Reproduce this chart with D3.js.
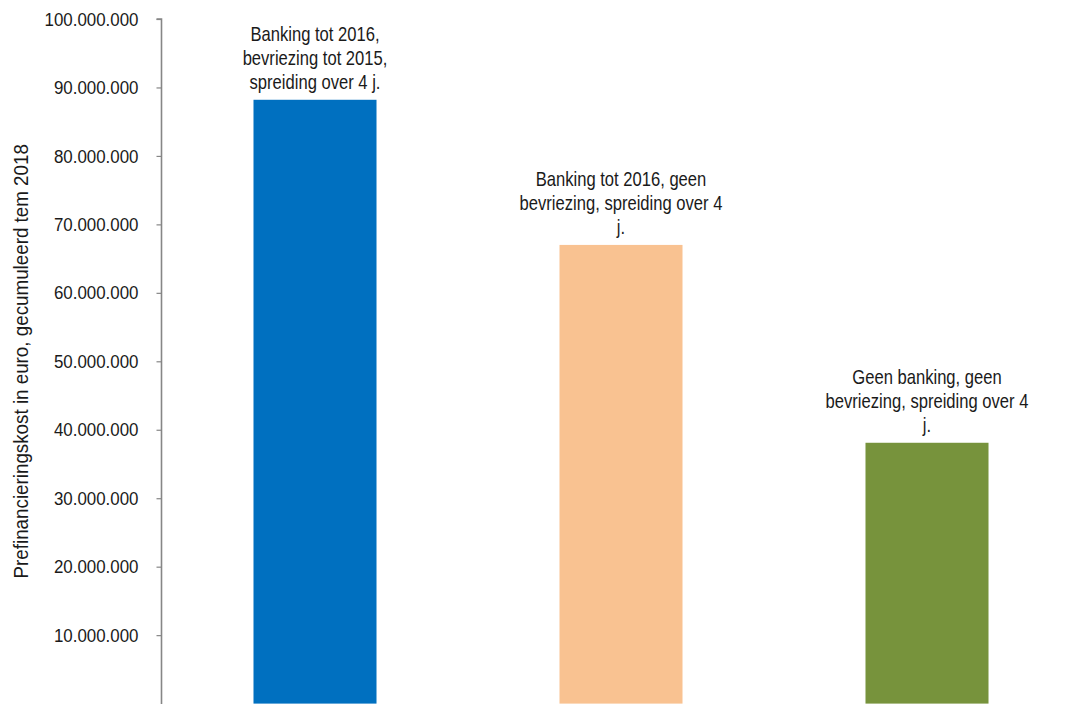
<!DOCTYPE html>
<html>
<head>
<meta charset="utf-8">
<script src="https://cdn.jsdelivr.net/npm/d3@7"></script>
<style>
  html, body { margin: 0; padding: 0; background: #fff; }
  svg { display: block; }
  text { font-family: "Liberation Sans Narrow", "Arial Narrow", "Liberation Sans", Arial, sans-serif; fill: #1a1a1a; }
</style>
</head>
<body>
<svg id="chart" width="1071" height="704"></svg>
<script>
// Scenarios and cumulative prefinancing cost (euro) up to 2018
const scenarios = ["s1", "s2", "s3"];
const costs = [88200000, 67000000, 38100000];
const barLabels = [
  ["Banking tot 2016,", "bevriezing tot 2015,", "spreiding over 4 j."],
  ["Banking tot 2016, geen", "bevriezing, spreiding over 4", "j."],
  ["Geen banking, geen", "bevriezing, spreiding over 4", "j."]
];
const barColors = ["#0070C0", "#F9C291", "#77933C"];
const yTicks = [10000000, 20000000, 30000000, 40000000, 50000000, 60000000, 70000000, 80000000, 90000000, 100000000];
const yTitle = "Prefinancieringskost in euro, gecumuleerd tem 2018";

const svg = d3.select("#chart");
const margin = { left: 162, right: -9, top: 19, bottom: 0.4 };
const W = 1071, H = 704;

// condensed look: regular sans squeezed horizontally
const squeezeTick = 0.89, squeezeLabel = 0.83, squeezeTitle = 0.94;

const x = d3.scaleBand()
  .domain(scenarios)
  .range([margin.left, W - margin.right])
  .paddingInner(0.598)
  .paddingOuter(0.299);

const y = d3.scaleLinear()
  .domain([0, 100000000])
  .range([H - margin.bottom, margin.top]);

const fmt = v => d3.format(",")(v).replace(/,/g, ".");

// bars
svg.append("g").selectAll("rect")
  .data(costs)
  .join("rect")
  .attr("x", (d, i) => x(scenarios[i]))
  .attr("width", x.bandwidth())
  .attr("y", d => y(d))
  .attr("height", d => y(0) - y(d))
  .attr("fill", (d, i) => barColors[i]);

// y axis
const yAxis = d3.axisLeft(y)
  .tickValues(yTicks)
  .tickFormat(fmt)
  .tickSize(5)
  .tickPadding(19);

const gy = svg.append("g")
  .attr("transform", `translate(${margin.left - 0.5},0)`)
  .call(yAxis);
gy.select(".domain").attr("stroke", "#868686").attr("stroke-width", 1.6)
  .attr("d", `M-5,${y(100000000)}H0V${H}`);
gy.selectAll(".tick line").attr("stroke", "#868686").attr("stroke-width", 1.2);
gy.selectAll(".tick text")
  .attr("x", 0)
  .attr("transform", `translate(-23,0) scale(${squeezeTick},1)`)
  .style("font-size", "19px")
  .style("font-family", '"Liberation Sans Narrow", "Arial Narrow", "Liberation Sans", Arial, sans-serif')
  .attr("fill", "#1a1a1a");

// axis title
svg.append("text")
  .attr("transform", `translate(28,${(y(0) + y(100000000)) / 2}) rotate(-90) scale(${squeezeTitle},1)`)
  .attr("text-anchor", "middle")
  .style("font-size", "20px")
  .text(yTitle);

// labels above bars
const lineH = 24;
barLabels.forEach((lines, i) => {
  const cx = x(scenarios[i]) + x.bandwidth() / 2;
  const base = y(costs[i]) - 11;
  const t = svg.append("text")
    .attr("transform", `translate(${cx},${base}) scale(${squeezeLabel},1)`)
    .attr("text-anchor", "middle")
    .style("font-size", "20px");
  lines.forEach((ln, j) => {
    t.append("tspan")
      .attr("x", 0)
      .attr("y", -(lines.length - 1 - j) * lineH)
      .text(ln);
  });
});
</script>
</body>
</html>
